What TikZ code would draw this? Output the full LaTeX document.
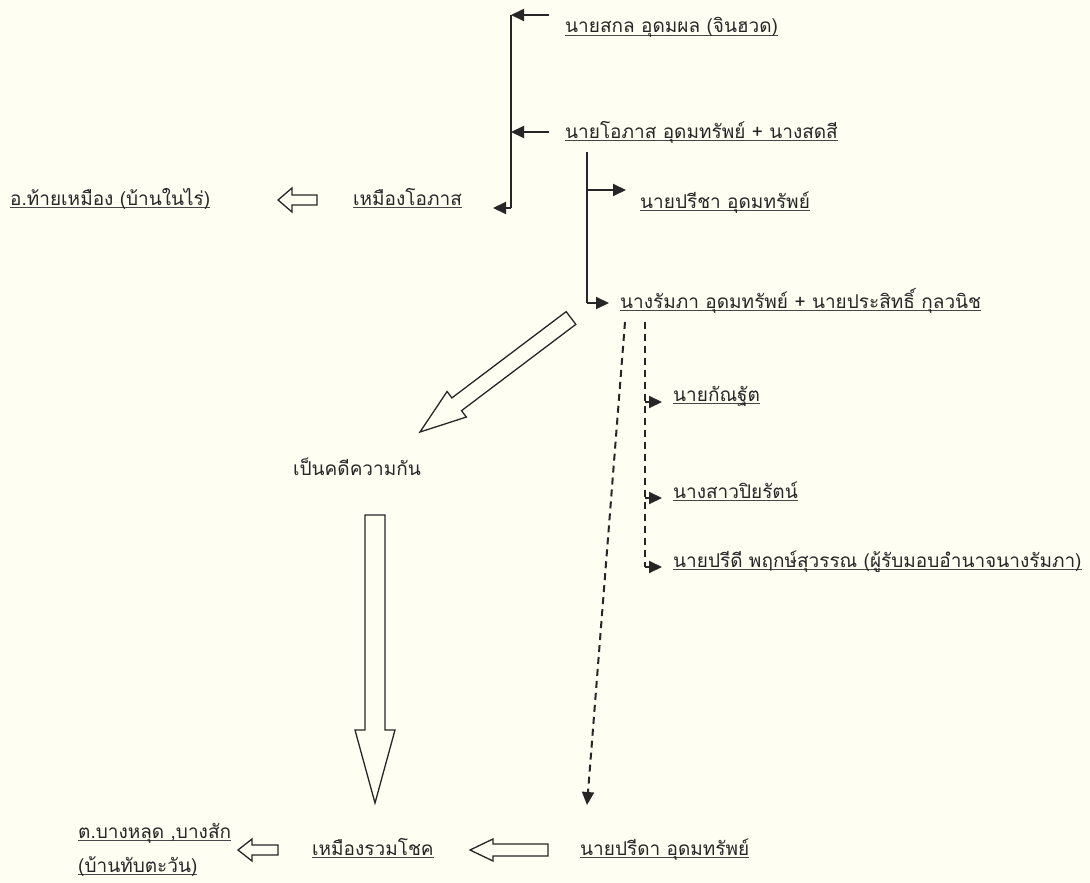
\documentclass[tikz,border=0pt]{standalone}
\usepackage{fontspec}
\newfontfamily\thai[Script=Thai]{Loma}
\usetikzlibrary{arrows.meta,calc}
\definecolor{bg}{HTML}{FEFEF3}
\definecolor{ink}{HTML}{262626}
\newcommand\thul[1]{\setbox0\hbox{#1}\rlap{\color{ink!85}\rule[-2.6pt]{\wd0}{0.7pt}}\box0}
\newcommand\blockarrow[5]{% tail, tip, half shaft, half head, head length
  \draw[blk] ($(#1)!#3!90:(#2)$) -- ($($(#2)!#5!(#1)$)!#3!90:(#2)$)
    -- ($($(#2)!#5!(#1)$)!#4!90:(#2)$) -- (#2)
    -- ($($(#2)!#5!(#1)$)!#4!-90:(#2)$) -- ($($(#2)!#5!(#1)$)!#3!-90:(#2)$)
    -- ($(#1)!#3!-90:(#2)$) -- cycle;}
\begin{document}
\begin{tikzpicture}[x=1pt,y=-1pt,
  lbl/.style={anchor=base west, inner sep=0pt, font=\thai\fontsize{19}{22}\selectfont, text=ink},
  conn/.style={draw=ink, line width=2pt},
  arr/.style={conn, -{Triangle[length=13pt,width=12pt]}},
  darr/.style={arr, dash pattern=on 7pt off 5pt},
  dline/.style={conn, dash pattern=on 7pt off 5pt},
  blk/.style={draw=ink, line width=1.3pt, fill=bg, line join=miter}]
\fill[bg] (0,0) rectangle (1090,883);
\useasboundingbox (0,0) rectangle (1090,883);

% text nodes
\node[lbl] (sakol) at (565,33) {\thul{นายสกล อุดมผล (จินฮวด)}};
\node[lbl] (opas) at (565,138) {\thul{นายโอภาส อุดมทรัพย์ + นางสดสี}};
\node[lbl] (thaimuang) at (10,205) {\thul{อ.ท้ายเหมือง (บ้านในไร่)}};
\node[lbl] (mopas) at (353,205) {\thul{เหมืองโอภาส}};
\node[lbl] (preecha) at (640,208) {\thul{นายปรีชา อุดมทรัพย์}};
\node[lbl] (rumpa) at (620,308) {\thul{นางรัมภา อุดมทรัพย์ + นายประสิทธิ์ กุลวนิช}};
\node[lbl] (kanthat) at (673,401) {\thul{นายกัณฐัต}};
\node[lbl] (piyarat) at (673,498) {\thul{นางสาวปิยรัตน์}};
\node[lbl] (preedee) at (673,567) {\thul{นายปรีดี พฤกษ์สุวรรณ (ผู้รับมอบอำนาจนางรัมภา)}};
\node[lbl] (case) at (293,475) {เป็นคดีความกัน};
\node[lbl] (banglud) at (78,838) {\thul{ต.บางหลุด ,บางสัก}};
\node[lbl] (thapta) at (78,872) {\thul{(บ้านทับตะวัน)}};
\node[lbl] (mruam) at (312,855) {\thul{เหมืองรวมโชค}};
\node[lbl] (preeda) at (580,855) {\thul{นายปรีดา อุดมทรัพย์}};

% left bracket
\coordinate (v1a) at (511,15);
\coordinate (v1c) at (511,132);
\coordinate (v1b) at (511,208);
\coordinate (s1) at (549,15);
\coordinate (s2) at (549,132);
\coordinate (t1) at (493,208);
\draw[conn] (v1a) -- (v1b);
\draw[arr] (s1) -- (v1a);
\draw[arr] (s2) -- (v1c);
\draw[arr] (v1b) -- (t1);

% second bracket
\coordinate (v2a) at (587,152);
\coordinate (v2c) at (587,190);
\coordinate (v2b) at (587,303);
\coordinate (p1) at (626,190);
\coordinate (p2) at (609,303);
\draw[conn] (v2a) -- (v2b);
\draw[arr] (v2c) -- (p1);
\draw[arr] (v2b) -- (p2);

% dashed
\coordinate (d1a) at (645,322);
\coordinate (d1k) at (645,402);
\coordinate (d1p) at (645,498);
\coordinate (d1b) at (645,567);
\coordinate (k1) at (662,402);
\coordinate (k2) at (662,498);
\coordinate (k3) at (662,567);
\draw[dline] (d1a) -- (d1b);
\draw[arr] (d1k) -- (k1);
\draw[arr] (d1p) -- (k2);
\draw[arr] (d1b) -- (k3);
\coordinate (d2a) at (625,322);
\coordinate (d2b) at (587,805);
\draw[darr] (d2a) -- (d2b);

% block arrows
\coordinate (ba1t) at (317,200); \coordinate (ba1h) at (278,200);
\blockarrow{ba1t}{ba1h}{5pt}{12pt}{14pt}
\coordinate (ba2t) at (571,318); \coordinate (ba2h) at (420,432);
\blockarrow{ba2t}{ba2h}{8pt}{16pt}{46pt}
\coordinate (ba3t) at (375,515); \coordinate (ba3h) at (375,803);
\blockarrow{ba3t}{ba3h}{10pt}{20pt}{73pt}
\coordinate (ba4t) at (278,850); \coordinate (ba4h) at (238,850);
\blockarrow{ba4t}{ba4h}{5pt}{11pt}{14pt}
\coordinate (ba5t) at (548,850); \coordinate (ba5h) at (470,850);
\blockarrow{ba5t}{ba5h}{6pt}{11pt}{23pt}
\end{tikzpicture}
\end{document}
